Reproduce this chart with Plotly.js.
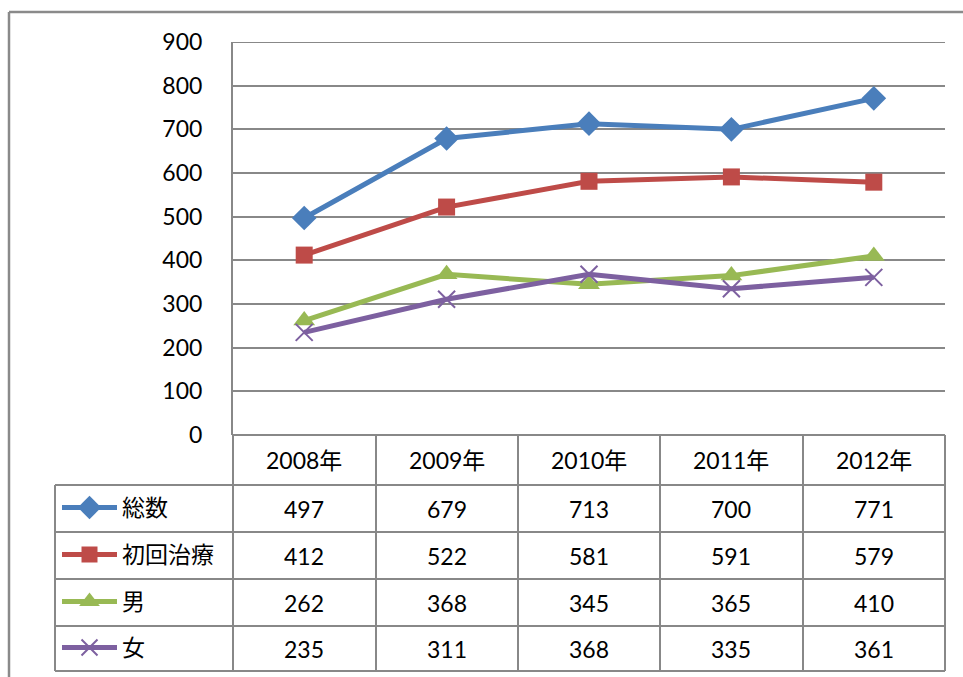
<!DOCTYPE html>
<html>
<head>
<meta charset="utf-8">
<script src="https://cdn.plot.ly/plotly-3.0.1.min.js"></script>
<style>html,body{margin:0;padding:0;background:#fff;}#chart{width:963px;height:677px;}</style>
</head>
<body>
<div id="chart"></div>
<script>
// ---- data ----
const years = ['2008年', '2009年', '2010年', '2011年', '2012年'];
const seriesNames = ['総数', '初回治療', '男', '女'];
const total = [497, 679, 713, 700, 771];
const firstTreatment = [412, 522, 581, 591, 579];
const male = [262, 368, 345, 365, 410];
const female = [235, 311, 368, 335, 361];
const yTicks = [0, 100, 200, 300, 400, 500, 600, 700, 800, 900];

// ---- styling ----
const W = 963, H = 677;
const colors = ['#4A7EBB', '#BE4B48', '#98B954', '#7D60A0'];
const symbols = ['diamond', 'square', 'triangle-up', 'x-thin'];
const msizes = [19, 17, 19, 17];
const FONT = "Lato, 'Noto Sans CJK JP', sans-serif";
const GRID = '#888888';
const px = x => x / W;
const py = y => 1 - y / H;

const plotL = 233, plotR = 945, plotT = 42, plotB = 435;
const tableL = 55;
const rowLines = [485, 532, 579, 626, 671];
const colLines = [233, 376, 518, 660, 803, 945];

const allSeries = [total, firstTreatment, male, female];

function markerFor(i, size) {
  return {
    symbol: symbols[i], size: size, color: colors[i],
    line: {color: colors[i], width: symbols[i] === 'x-thin' ? 2 : 0}
  };
}

const traces = allSeries.map((vals, i) => ({
  type: 'scatter', mode: 'lines+markers',
  x: years, y: vals, name: seriesNames[i],
  xaxis: 'x', yaxis: 'y',
  line: {color: colors[i], width: 5},
  marker: markerFor(i, msizes[i]),
  hoverinfo: 'x+y+name'
}));

// legend keys inside table (pixel-unit axes)
allSeries.forEach((vals, i) => {
  const cy = (rowLines[i] + rowLines[i + 1]) / 2 - 1;
  traces.push({
    type: 'scatter', mode: 'lines',
    x: [62, 117], y: [cy, cy],
    xaxis: 'x2', yaxis: 'y2',
    line: {color: colors[i], width: 5},
    hoverinfo: 'skip', showlegend: false
  });
  traces.push({
    type: 'scatter', mode: 'markers',
    x: [89.5], y: [cy],
    xaxis: 'x2', yaxis: 'y2',
    marker: markerFor(i, msizes[i] - 1),
    hoverinfo: 'skip', showlegend: false
  });
});

const shapes = [];
const lineStyle = {color: GRID, width: 2};
// outer frame
shapes.push({type: 'line', xref: 'paper', yref: 'paper', x0: px(9), x1: px(970), y0: py(12), y1: py(12), line: {color: '#8a8a8a', width: 2.5}});
shapes.push({type: 'line', xref: 'paper', yref: 'paper', x0: px(9), x1: px(9), y0: py(12), y1: py(690), line: {color: '#8a8a8a', width: 2.5}});
// top gridline (max tick)
shapes.push({type: 'line', xref: 'paper', yref: 'y', x0: px(plotL), x1: px(plotR), y0: yTicks[yTicks.length - 1], y1: yTicks[yTicks.length - 1], line: lineStyle, layer: 'below'});
// table horizontal lines
rowLines.forEach(y => shapes.push({type: 'line', xref: 'paper', yref: 'paper', x0: px(tableL), x1: px(plotR), y0: py(y), y1: py(y), line: lineStyle}));
// table vertical lines
colLines.forEach(x => shapes.push({type: 'line', xref: 'paper', yref: 'paper', x0: px(x), x1: px(x), y0: py(plotB), y1: py(671), line: lineStyle}));
shapes.push({type: 'line', xref: 'paper', yref: 'paper', x0: px(tableL), x1: px(tableL), y0: py(485), y1: py(671), line: lineStyle});

const annotations = [];
const tfont = {family: FONT, size: 23, color: '#000'};
// header
years.forEach(yr => annotations.push({
  xref: 'x', yref: 'paper', x: yr, y: py((plotB + rowLines[0]) / 2),
  text: yr, showarrow: false, font: tfont, xanchor: 'center', yanchor: 'middle'
}));
// values
allSeries.forEach((vals, i) => {
  const cy = (rowLines[i] + rowLines[i + 1]) / 2;
  vals.forEach((v, j) => annotations.push({
    xref: 'x', yref: 'paper', x: years[j], y: py(cy),
    text: String(v), showarrow: false, font: tfont, xanchor: 'center', yanchor: 'middle'
  }));
  annotations.push({
    xref: 'paper', yref: 'paper', x: px(120), y: py(cy - 2),
    text: seriesNames[i], showarrow: false, font: tfont, xanchor: 'left', yanchor: 'middle'
  });
});

const layout = {
  width: W, height: H,
  margin: {l: 0, r: 0, t: 0, b: 0},
  paper_bgcolor: '#fff', plot_bgcolor: '#fff',
  showlegend: false,
  font: {family: FONT, size: 23, color: '#000'},
  xaxis: {
    domain: [px(plotL), px(plotR)], type: 'category', range: [-0.5, 4.5],
    showticklabels: false, showgrid: false, zeroline: false, showline: false, ticks: ''
  },
  yaxis: {
    domain: [py(plotB), py(plotT)], range: [0, 900], tickvals: yTicks,
    showgrid: true, gridcolor: GRID, gridwidth: 2,
    zeroline: true, zerolinecolor: GRID, zerolinewidth: 2,
    showline: true, linecolor: GRID, linewidth: 2,
    ticks: '', ticklabelstandoff: 24,
    tickfont: {family: FONT, size: 23, color: '#000'}
  },
  xaxis2: {domain: [px(tableL), px(plotL)], range: [tableL, plotL], visible: false, anchor: 'y2'},
  yaxis2: {domain: [py(671), py(485)], range: [671, 485], visible: false, anchor: 'x2'},
  shapes: shapes,
  annotations: annotations
};

Plotly.newPlot('chart', traces, layout, {displayModeBar: false, staticPlot: true});
</script>
</body>
</html>
